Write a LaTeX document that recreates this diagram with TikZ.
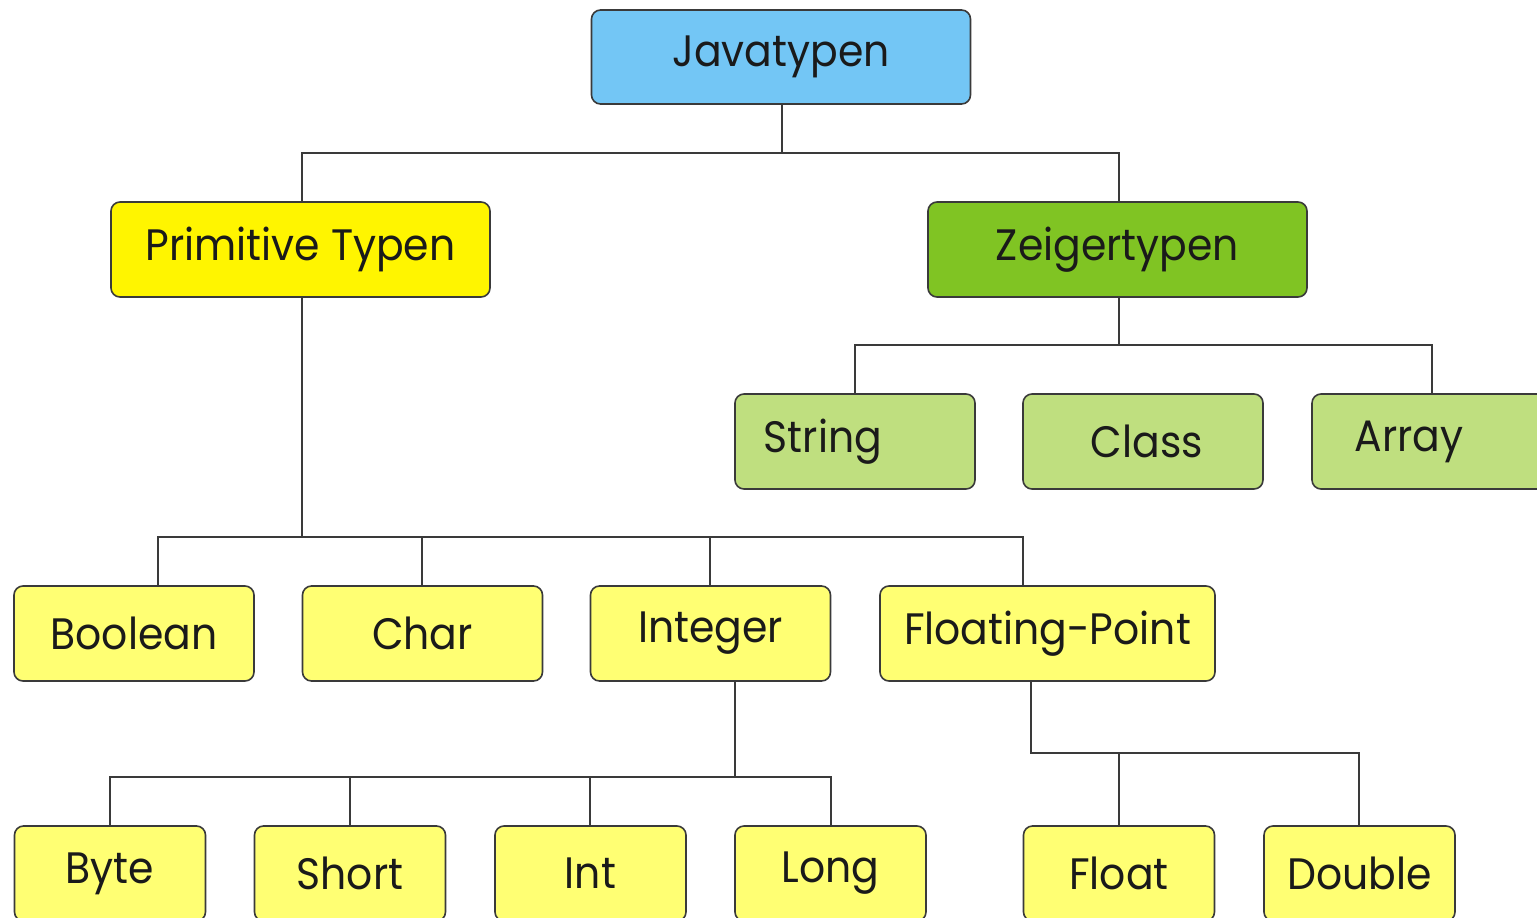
\documentclass[tikz,border=0pt]{standalone}
\usepackage{fontspec}
\setmainfont{Poppins}[FakeStretch=0.93]
\usetikzlibrary{calc}
\definecolor{cblue}{HTML}{73C6F5}
\definecolor{cyel}{HTML}{FFF500}
\definecolor{cgreen}{HTML}{80C423}
\definecolor{clgreen}{HTML}{BFDF7F}
\definecolor{clyel}{HTML}{FFFF73}
\definecolor{cline}{HTML}{3A3A3A}
\definecolor{ctext}{HTML}{1A1A1A}
\tikzset{
  box/.style={draw=cline, line width=1.6pt, rounded corners=9pt, minimum height=95pt,
    inner sep=0pt, font=\fontsize{44}{48}\selectfont, text=ctext},
  widebox/.style={box, minimum width=379pt},
  midbox/.style={box, minimum width=240pt},
  smallbox/.style={box, minimum width=191pt},
  conn/.style={draw=cline, line width=1.4pt},
}
\begin{document}
\begin{tikzpicture}[x=1pt,y=-1pt]
\useasboundingbox (0,0) rectangle (1537,918);
\clip (0,0) rectangle (1537,918);
% level 0
\node[widebox, fill=cblue, minimum height=94pt] (java) at (781,57) {Javatypen};
% level 1
\node[widebox, fill=cyel] (prim) at (300.5,249.5) {Primitive Typen};
\node[widebox, fill=cgreen] (zeig) at (1117.5,249.5) {Zeigertypen};
% level 2 (reference types)
\node[midbox, fill=clgreen] (string) at (855,441.5) {\hspace*{-64pt}String};
\node[midbox, fill=clgreen] (class) at (1143,441.5) {\hspace*{8pt}Class};
\node[midbox, fill=clgreen] (array) at (1432,441.5) {\hspace*{-46pt}Array};
% level 2 (primitive types)
\node[midbox, fill=clyel] (bool) at (134,633.5) {Boolean};
\node[midbox, fill=clyel] (char) at (422.5,633.5) {Char};
\node[midbox, fill=clyel] (integer) at (710.5,633.5) {Integer};
\node[box, minimum width=335pt, fill=clyel] (floatp) at (1047.5,633.5) {Floating-Point};
% level 3
\node[smallbox, fill=clyel] (byte) at (110,873.5) {Byte};
\node[smallbox, fill=clyel] (short) at (350,873.5) {Short};
\node[smallbox, fill=clyel] (int) at (590.5,873.5) {Int};
\node[smallbox, fill=clyel] (long) at (830.5,873.5) {Long};
\node[smallbox, fill=clyel] (float) at (1119,873.5) {Float};
\node[smallbox, fill=clyel] (double) at (1359.5,873.5) {Double};
% bus levels
\coordinate (b0) at (0,153);
\coordinate (b1) at (0,345);
\coordinate (b2) at (0,537);
\coordinate (b3) at (0,777);
\coordinate (b4) at (0,753);
% connectors
\draw[conn] ($(java.south)+(1,0)$) -- ($(java.south |- b0)+(1,0)$) -| ($(prim.north)+(1.5,0)$);
\draw[conn] ($(java.south |- b0)+(1,0)$) -| ($(zeig.north)+(1.5,0)$);
\draw[conn] ($(zeig.south)+(1.5,0)$) -- ($(zeig.south |- b1)+(1.5,0)$) -| (string.north);
\draw[conn] ($(zeig.south |- b1)+(1.5,0)$) -| (array.north);
\draw[conn] ($(prim.south)+(1.5,0)$) -- ($(prim.south |- b2)+(1.5,0)$) -| ($(bool.north)+(24,0)$);
\draw[conn] ($(prim.south |- b2)+(1.5,0)$) -| ($(char.north)+(-0.5,0)$);
\draw[conn] ($(prim.south |- b2)+(1.5,0)$) -| ($(integer.north)+(-0.5,0)$);
\draw[conn] ($(prim.south |- b2)+(1.5,0)$) -| ($(floatp.north)+(-24.5,0)$);
\draw[conn] ($(integer.south)+(24.5,0)$) -- ($(integer.south |- b3)+(24.5,0)$) -| (byte.north);
\draw[conn] ($(integer.south |- b3)+(24.5,0)$) -| (short.north);
\draw[conn] ($(integer.south |- b3)+(24.5,0)$) -| ($(int.north)+(-0.5,0)$);
\draw[conn] ($(integer.south |- b3)+(24.5,0)$) -| ($(long.north)+(0.5,0)$);
\draw[conn] ($(floatp.south)+(-16.5,0)$) -- ($(floatp.south |- b4)+(-16.5,0)$) -| (float.north);
\draw[conn] ($(floatp.south |- b4)+(-16.5,0)$) -| ($(double.north)+(-0.5,0)$);
\end{tikzpicture}
\end{document}
